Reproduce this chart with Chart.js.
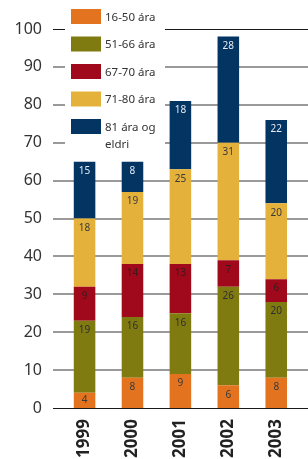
<!DOCTYPE html>
<html>
<head>
<meta charset="utf-8">
<script src="https://cdn.jsdelivr.net/npm/chart.js@4/dist/chart.umd.min.js"></script>
<style>
  html, body { margin: 0; padding: 0; background: #fff; }
  #wrap { width: 308px; height: 459px; position: relative; }
</style>
</head>
<body>
<div id="wrap"><canvas id="chart"></canvas></div>
<script>
// data
const years = ["1999", "2000", "2001", "2002", "2003"];
const seriesNames = ["16-50 ára", "51-66 ára", "67-70 ára", "71-80 ára", ["81 ára og", "eldri"]];
const age16to50 = [4, 8, 9, 6, 8];
const age51to66 = [19, 16, 16, 26, 20];
const age67to70 = [9, 14, 13, 7, 6];
const age71to80 = [18, 19, 25, 31, 20];
const age81plus = [15, 8, 18, 28, 22];
const yTickValues = [0, 10, 20, 30, 40, 50, 60, 70, 80, 90, 100];

const colors = ["#e3731e", "#807b10", "#a0081b", "#e4b13b", "#033462"];
const labelColors = ["#3a3a3a", "#2e2e2e", "#3a1a1a", "#3a3a3a", "#e6ecf4"];
const FONT = "'Noto Sans', 'Open Sans', sans-serif";

// horizontal grid lines, wider than the plot area like in the original
const gridPlugin = {
  id: "gridLines",
  beforeDatasetsDraw(chart) {
    const ctx = chart.ctx;
    const y = chart.scales.y;
    ctx.save();
    yTickValues.forEach(v => {
      const py = Math.round(y.getPixelForValue(v));
      if (v === 0 || v === 100) {
        ctx.strokeStyle = "#1a1a1a";
        ctx.lineWidth = 1;
        ctx.beginPath();
        ctx.moveTo(53, py + 0.5);
        ctx.lineTo(chart.width, py + 0.5);
        ctx.stroke();
      } else {
        ctx.strokeStyle = "#9a9a9a";
        ctx.lineWidth = 2;
        ctx.beginPath();
        ctx.moveTo(53, py);
        ctx.lineTo(chart.width, py);
        ctx.stroke();
      }
    });
    ctx.restore();
  }
};

// value labels inside each segment
const valueLabels = {
  id: "valueLabels",
  afterDatasetsDraw(chart) {
    const ctx = chart.ctx;
    ctx.save();
    ctx.font = "10px " + FONT;
    ctx.textAlign = "center";
    ctx.textBaseline = "middle";
    chart.data.datasets.forEach((ds, i) => {
      const meta = chart.getDatasetMeta(i);
      meta.data.forEach((bar, j) => {
        const top = bar.y, bottom = bar.base;
        const h = bottom - top;
        const ly = h < 19 ? (top + bottom) / 2 : top + 9.5;
        ctx.fillStyle = labelColors[i];
        ctx.fillText(String(ds.data[j]), bar.x, ly);
      });
    });
    ctx.restore();
  }
};

// legend box sitting over the upper left of the plot
const legendBox = {
  id: "legendBox",
  afterDraw(chart) {
    const ctx = chart.ctx;
    ctx.save();
    ctx.fillStyle = "#fff";
    ctx.fillRect(65, 0, 100, 152);
    ctx.font = "11.5px " + FONT;
    ctx.textBaseline = "middle";
    ctx.textAlign = "left";
    seriesNames.forEach((name, i) => {
      const top = 9 + i * 27.5;
      ctx.fillStyle = colors[i];
      ctx.fillRect(71, top, 30, 15);
      ctx.fillStyle = "#333";
      const lines = Array.isArray(name) ? name : [name];
      lines.forEach((t, k) => ctx.fillText(t, 105, top + 8.5 + k * 17));
    });
    ctx.restore();
  }
};

const series = [age16to50, age51to66, age67to70, age71to80, age81plus];

new Chart(document.getElementById("chart"), {
  type: "bar",
  data: {
    labels: years,
    datasets: series.map((d, i) => ({
      label: Array.isArray(seriesNames[i]) ? seriesNames[i].join(" ") : seriesNames[i],
      data: d,
      backgroundColor: colors[i],
      borderWidth: 0,
      barPercentage: 0.45,
      categoryPercentage: 1
    }))
  },
  options: {
    responsive: true,
    maintainAspectRatio: false,
    animation: false,
    layout: { padding: { top: 29, right: 3.6, left: 0, bottom: 0 } },
    plugins: {
      legend: { display: false },
      tooltip: { enabled: false }
    },
    scales: {
      x: {
        stacked: true,
        grid: { display: false, drawTicks: false },
        border: { display: false },
        ticks: {
          autoSkip: false,
          minRotation: 90,
          maxRotation: 90,
          padding: 11,
          color: "#222",
          font: { family: FONT, size: 17, weight: "bold" }
        },
        afterFit(scale) { scale.height = 51; }
      },
      y: {
        stacked: true,
        min: 0,
        max: 100,
        grid: { display: false, drawTicks: false },
        border: { display: false },
        ticks: {
          stepSize: 10,
          padding: 18.6,
          color: "#333",
          font: { family: FONT, size: 16 }
        },
        afterFit(scale) { scale.width = 60.6; }
      }
    }
  },
  plugins: [gridPlugin, valueLabels, legendBox]
});
</script>
</body>
</html>
